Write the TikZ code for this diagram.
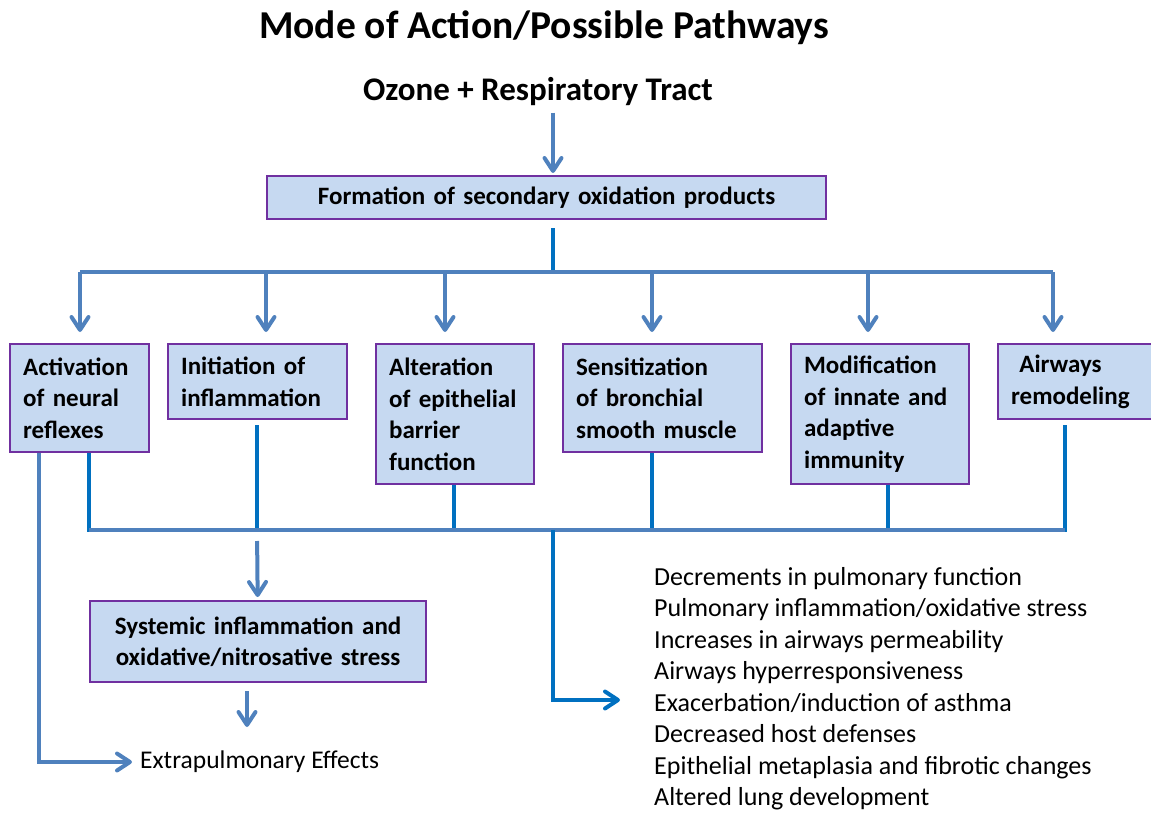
\documentclass[tikz,border=0pt]{standalone}
\usepackage{fontspec}
\setmainfont{Carlito}
\usetikzlibrary{arrows.meta}
\definecolor{boxfill}{HTML}{C6D9F1}
\definecolor{boxline}{HTML}{7030A0}
\definecolor{arrowblue}{HTML}{4F81BD}
\definecolor{linkblue}{HTML}{0070C0}

\begin{document}
\begin{tikzpicture}[
  x=1pt, y=-1pt,
  font=\fontsize{25}{31.5}\selectfont,
  box/.style={draw=boxline, line width=2.2pt, fill=boxfill, anchor=north west, align=left,
    inner xsep=13pt, inner ysep=0pt, font=\bfseries\fontsize{25}{31.5}\selectfont},
  feed/.style={arrowblue, line width=4pt, -{Straight Barb[length=13pt,width=17pt,round]}},
  link/.style={linkblue, line width=4pt},
  bus/.style={arrowblue, line width=4pt},
]
\useasboundingbox (0,0) rectangle (1151,813);
\node[font=\bfseries\fontsize{39.5}{44}\selectfont] (title) at (544,28) {Mode of Action/Possible Pathways};
\node[font=\bfseries\fontsize{33}{38}\selectfont] (ozone) at (538,92) {Ozone + Respiratory Tract};
\node[box, align=center, text width=533pt, minimum height=43pt] (form) at (266,175)
  {Formation of secondary oxidation products};
\foreach \n/\x/\w/\h/\txt in {
  act/9/113/108/{Activation\\of neural\\reflexes},
  ini/167/153/75/{Initiation of\\inflammation},
  alt/375/132/140/{Alteration\\of epithelial\\barrier\\function},
  sen/562/173/108/{Sensitization\\of bronchial\\smooth muscle},
  mod/790/152/140/{Modification\\of innate and\\adaptive\\immunity},
  air/997/144/75/{\ Airways\\remodeling}}
  \node[box, text width=\w pt, minimum height=\h pt] (\n) at (\x,343) {\txt};
\node[box, align=center, text width=310pt, minimum height=81pt] (sys) at (89,600)
  {Systemic inflammation and\\oxidative/nitrosative stress};
\node[anchor=west, inner sep=0pt, font=\fontsize{25.5}{31.7}\selectfont] (extra) at (140,762) {Extrapulmonary Effects};
\node[anchor=north west, align=left, inner sep=0pt, font=\fontsize{26}{31.5}\selectfont] (effects) at (654,567)
  {Decrements in pulmonary function\\
   Pulmonary inflammation/oxidative stress\\
   Increases in airways permeability\\
   Airways hyperresponsiveness\\
   Exacerbation/induction of asthma\\
   Decreased host defenses\\
   Epithelial metaplasia and fibrotic changes\\
   Altered lung development};
\coordinate (hub) at (553,272);
\coordinate (lowhub) at (553,530);
\coordinate (tolist) at (620,700);
\coordinate (sysout) at (247,727);
\draw[feed, shorten <=3pt, shorten >=2pt] (ozone.south -| hub) -- (form.north -| hub);
\draw[link, shorten <=8pt] (form.south -| hub) -- (hub);
\draw[bus] (80,272) -- (1053,272);
\foreach \n/\x in {act/80, ini/266, alt/445, sen/652, mod/868, air/1053}
  \draw[feed, shorten >=11pt] (\x,272) -- (\x,272 |- \n.north);
\foreach \n/\x/\g in {act/89/0pt, ini/257/5pt, alt/454/0pt, sen/652/0pt, mod/888/0pt, air/1065/5pt}
  \draw[link, shorten <=\g] (\x,0 |- \n.south) -- (\x,532);
\draw[bus] (89,530) -- (1065,530);
\draw[feed, shorten <=11pt, shorten >=3pt] (257,530) -- (sys);
\draw[feed, shorten <=8pt] (sys.south -| sysout) -- (sysout);
\draw[feed, shorten >=8pt] (39,0 |- act.south) |- (extra.west);
\draw[link, -{Straight Barb[length=13pt,width=17pt,round]}] (lowhub) |- (tolist);
\end{tikzpicture}
\end{document}
